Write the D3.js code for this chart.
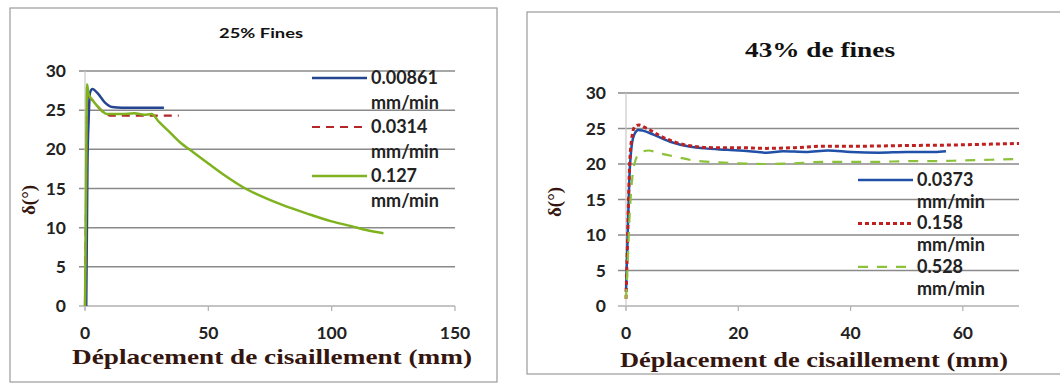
<!DOCTYPE html>
<html>
<head>
<meta charset="utf-8">
<script src="https://cdn.jsdelivr.net/npm/d3@7"></script>
<style>
	body { margin: 0; background: #fff; }
	svg { display: block; }
	.tick-label { font-family: Lato, "Open Sans", sans-serif; font-size: 17.5px; font-weight: 700; fill: #222; }
	.legend-label { font-family: Lato, "Open Sans", sans-serif; font-size: 18px; font-weight: 700; fill: #222; }
	.axis-title { font-family: "Liberation Serif", "DejaVu Serif", serif; font-weight: 700; fill: #35160f; }
</style>
</head>
<body>
<svg id="chart" width="1060" height="385"></svg>
<script>

// --- data ---
const Y_TICKS = [0, 5, 10, 15, 20, 25, 30];
const LEFT_X_TICKS = [0, 50, 100, 150];
const RIGHT_X_TICKS = [0, 20, 40, 60];

const LEFT_TITLE = '25% Fines';
const RIGHT_TITLE = '43% de fines';
const X_TITLE = 'Déplacement  de cisaillement (mm)';
const Y_TITLE = 'δ(°)';

const LEFT_NAMES = ['0.00861', '0.0314', '0.127'];
const RIGHT_NAMES = ['0.0373', '0.158', '0.528'];

// 25% fines
const fines25_00861 = [[0.5,0],[1,18],[1.5,24],[2,27.2],[3,27.7],[5,27.2],[8,26],[11,25.4],[15,25.3],[25,25.3],[32,25.3]];
const fines25_0314 = [[0,0],[0.5,15],[1,26.8],[2,26.6],[5,25.5],[8,24.6],[11,24.3],[20,24.3],[30,24.3],[38,24.3]];
const fines25_127 = [[0,0],[0.3,10],[0.6,22],[0.8,28.3],[1.5,27],[3,26.3],[6,25.2],[9,24.5],[15,24.5],[20,24.6],[24,24.4],[27,24.5],
	[30,23.5],[34,22.3],[38.5,20.9],[44,19.6],[50,18.2],[57,16.6],[65,15.0],[73,13.8],[80,12.9],[90,11.8],[100,10.8],[108,10.2],[114,9.7],[121,9.3]];

// 43% fines
const fines43_0373 = [[0,2],[0.3,10],[0.6,18],[1,22.5],[1.5,24.2],[2.2,24.8],[3,24.7],[5,24.1],[8,23.1],[11,22.5],[14,22.2],[18,22.0],
	[22,21.8],[25,21.6],[28,21.8],[32,21.7],[36,21.9],[40,21.7],[45,21.6],[50,21.7],[55,21.7],[57,21.8]];
const fines43_158 = [[0,1],[0.3,10],[0.6,19],[1,23.5],[1.6,25.3],[2.3,25.5],[3.5,25.1],[6,24],[9,23],[12,22.5],[16,22.3],[20,22.3],
	[25,22.2],[30,22.3],[35,22.5],[40,22.5],[50,22.6],[60,22.7],[65,22.8],[70,22.9]];
const fines43_528 = [[0,1],[0.3,6],[0.6,12],[1,17],[1.5,20],[2.5,21.6],[4,21.9],[6,21.5],[9,21],[12,20.5],[15,20.3],[20,20.1],
	[25,20],[30,20.1],[35,20.3],[40,20.3],[45,20.3],[50,20.4],[55,20.4],[60,20.5],[65,20.6],[70,20.7]];


const svg = d3.select('#chart');

function drawPanel(p) {
	const g = svg.append('g');

	// frame
	g.append('rect')
		.attr('x', p.frame[0]).attr('y', p.frame[1])
		.attr('width', p.frame[2]).attr('height', p.frame[3])
		.attr('fill', '#fff').attr('stroke', '#9a9a9a').attr('stroke-width', 1.2);

	const x = d3.scaleLinear().domain(p.xDomain).range([p.x0, p.x1]);
	const y = d3.scaleLinear().domain([0, 30]).range([p.y0, p.y1]);

	// gridlines
	g.selectAll('line.grid')
		.data(Y_TICKS.filter(d => d > 0))
		.enter().append('line')
			.attr('x1', p.gridLeft).attr('x2', x(p.xDomain[1]))
			.attr('y1', d => y(d)).attr('y2', d => y(d))
			.attr('stroke', '#8a8a8a').attr('stroke-width', 1.5);

	// axes lines
	g.append('line')
		.attr('x1', p.gridLeft).attr('x2', x(p.xDomain[1]))
		.attr('y1', y(0)).attr('y2', y(0))
		.attr('stroke', '#b0b0b0').attr('stroke-width', 1.5);
	g.append('line')
		.attr('x1', x(0)).attr('x2', x(0))
		.attr('y1', y(0) + 4).attr('y2', y(30))
		.attr('stroke', '#c8c8c8').attr('stroke-width', 1.2);
	g.selectAll('line.xtick')
		.data(p.xTicks)
		.enter().append('line')
			.attr('x1', d => x(d)).attr('x2', d => x(d))
			.attr('y1', y(0)).attr('y2', y(0) + 5)
			.attr('stroke', '#b0b0b0').attr('stroke-width', 1.2);

	// tick labels
	g.selectAll('text.ylab')
		.data(Y_TICKS)
		.enter().append('text')
			.classed('tick-label', true)
			.attr('x', p.yLabelX)
			.attr('y', d => y(d) + 6)
			.attr('text-anchor', 'end')
			.text(d => d);
	g.selectAll('text.xlab')
		.data(p.xTicks)
		.enter().append('text')
			.classed('tick-label', true)
			.attr('x', d => x(d))
			.attr('y', p.xLabelY)
			.attr('text-anchor', 'middle')
			.text(d => d);

	// series
	const line = d3.line().x(d => x(d[0])).y(d => y(d[1])).curve(d3.curveMonotoneX);
	p.series.forEach(s => {
		g.append('path')
			.datum(s.data)
			.attr('fill', 'none')
			.attr('stroke', s.color)
			.attr('stroke-width', s.width)
			.attr('stroke-dasharray', s.dash)
			.attr('stroke-linejoin', 'round')
			.attr('d', line);
	});

	// legend
	p.series.forEach((s, i) => {
		const ly = p.legend.y + i * 2 * p.legend.step;
		g.append('line')
			.attr('x1', p.legend.x).attr('x2', p.legend.x + p.legend.len)
			.attr('y1', ly).attr('y2', ly)
			.attr('stroke', s.color).attr('stroke-width', s.width)
			.attr('stroke-dasharray', s.dash);
		g.append('text').classed('legend-label', true)
			.attr('x', p.legend.x + p.legend.len + 4).attr('y', ly + 6)
			.text(s.name);
		g.append('text').classed('legend-label', true)
			.attr('x', p.legend.x + p.legend.len + 4).attr('y', ly + 6 + p.legend.step)
			.text('mm/min');
	});

	// titles
	g.append('text')
		.attr('x', p.title.x).attr('y', p.title.y)
		.attr('text-anchor', 'middle')
		.attr('textLength', p.title.len)
		.attr('lengthAdjust', 'spacingAndGlyphs')
		.style('font-family', p.title.family)
		.style('font-size', p.title.size + 'px')
		.style('font-weight', 700)
		.attr('fill', '#111')
		.text(p.title.text);

	g.append('text').classed('axis-title', true)
		.attr('x', p.xTitle.x).attr('y', p.xTitle.y)
		.attr('text-anchor', 'middle')
		.attr('textLength', p.xTitle.len)
		.attr('lengthAdjust', 'spacingAndGlyphs')
		.style('font-size', '22px')
		.text(X_TITLE);

	g.append('text').classed('axis-title', true)
		.attr('transform', `translate(${p.yTitle.x},${p.yTitle.y}) rotate(-90)`)
		.attr('text-anchor', 'middle')
		.style('font-size', '19px')
		.text(Y_TITLE);
}

drawPanel({
	frame: [10, 8, 487, 374],
	xDomain: [0, 150], x0: 85, x1: 455,
	y0: 306, y1: 71,
	gridLeft: 79,
	xTicks: LEFT_X_TICKS,
	yLabelX: 66, xLabelY: 339,
	series: [
		{ name: LEFT_NAMES[0], data: fines25_00861, color: '#24458f', width: 2.5, dash: null },
		{ name: LEFT_NAMES[1], data: fines25_0314, color: '#b3262a', width: 2.2, dash: '8,6' },
		{ name: LEFT_NAMES[2], data: fines25_127, color: '#7fb21f', width: 2.5, dash: null }
	],
	legend: { x: 312, len: 55, y: 78, step: 24.5 },
	title: { x: 261, y: 38, text: LEFT_TITLE, family: 'Lato, "Open Sans", sans-serif', size: 13, len: 84 },
	xTitle: { x: 272, y: 364, len: 400 },
	yTitle: { x: 35, y: 200 }
});

drawPanel({
	frame: [527, 12, 540, 362],
	xDomain: [0, 70], x0: 626, x1: 1019,
	y0: 306, y1: 93,
	gridLeft: 618,
	xTicks: RIGHT_X_TICKS,
	yLabelX: 606, xLabelY: 339,
	series: [
		{ name: RIGHT_NAMES[0], data: fines43_0373, color: '#2050a8', width: 2.5, dash: null },
		{ name: RIGHT_NAMES[1], data: fines43_158, color: '#c02020', width: 3, dash: '4,3' },
		{ name: RIGHT_NAMES[2], data: fines43_528, color: '#8cc23a', width: 2.2, dash: '10,9' }
	],
	legend: { x: 858, len: 55, y: 180, step: 21.7 },
	title: { x: 820, y: 57, text: RIGHT_TITLE, family: '"Liberation Serif", serif', size: 21, len: 150 },
	xTitle: { x: 814, y: 367, len: 388 },
	yTitle: { x: 561, y: 202 }
});

</script>
</body>
</html>
